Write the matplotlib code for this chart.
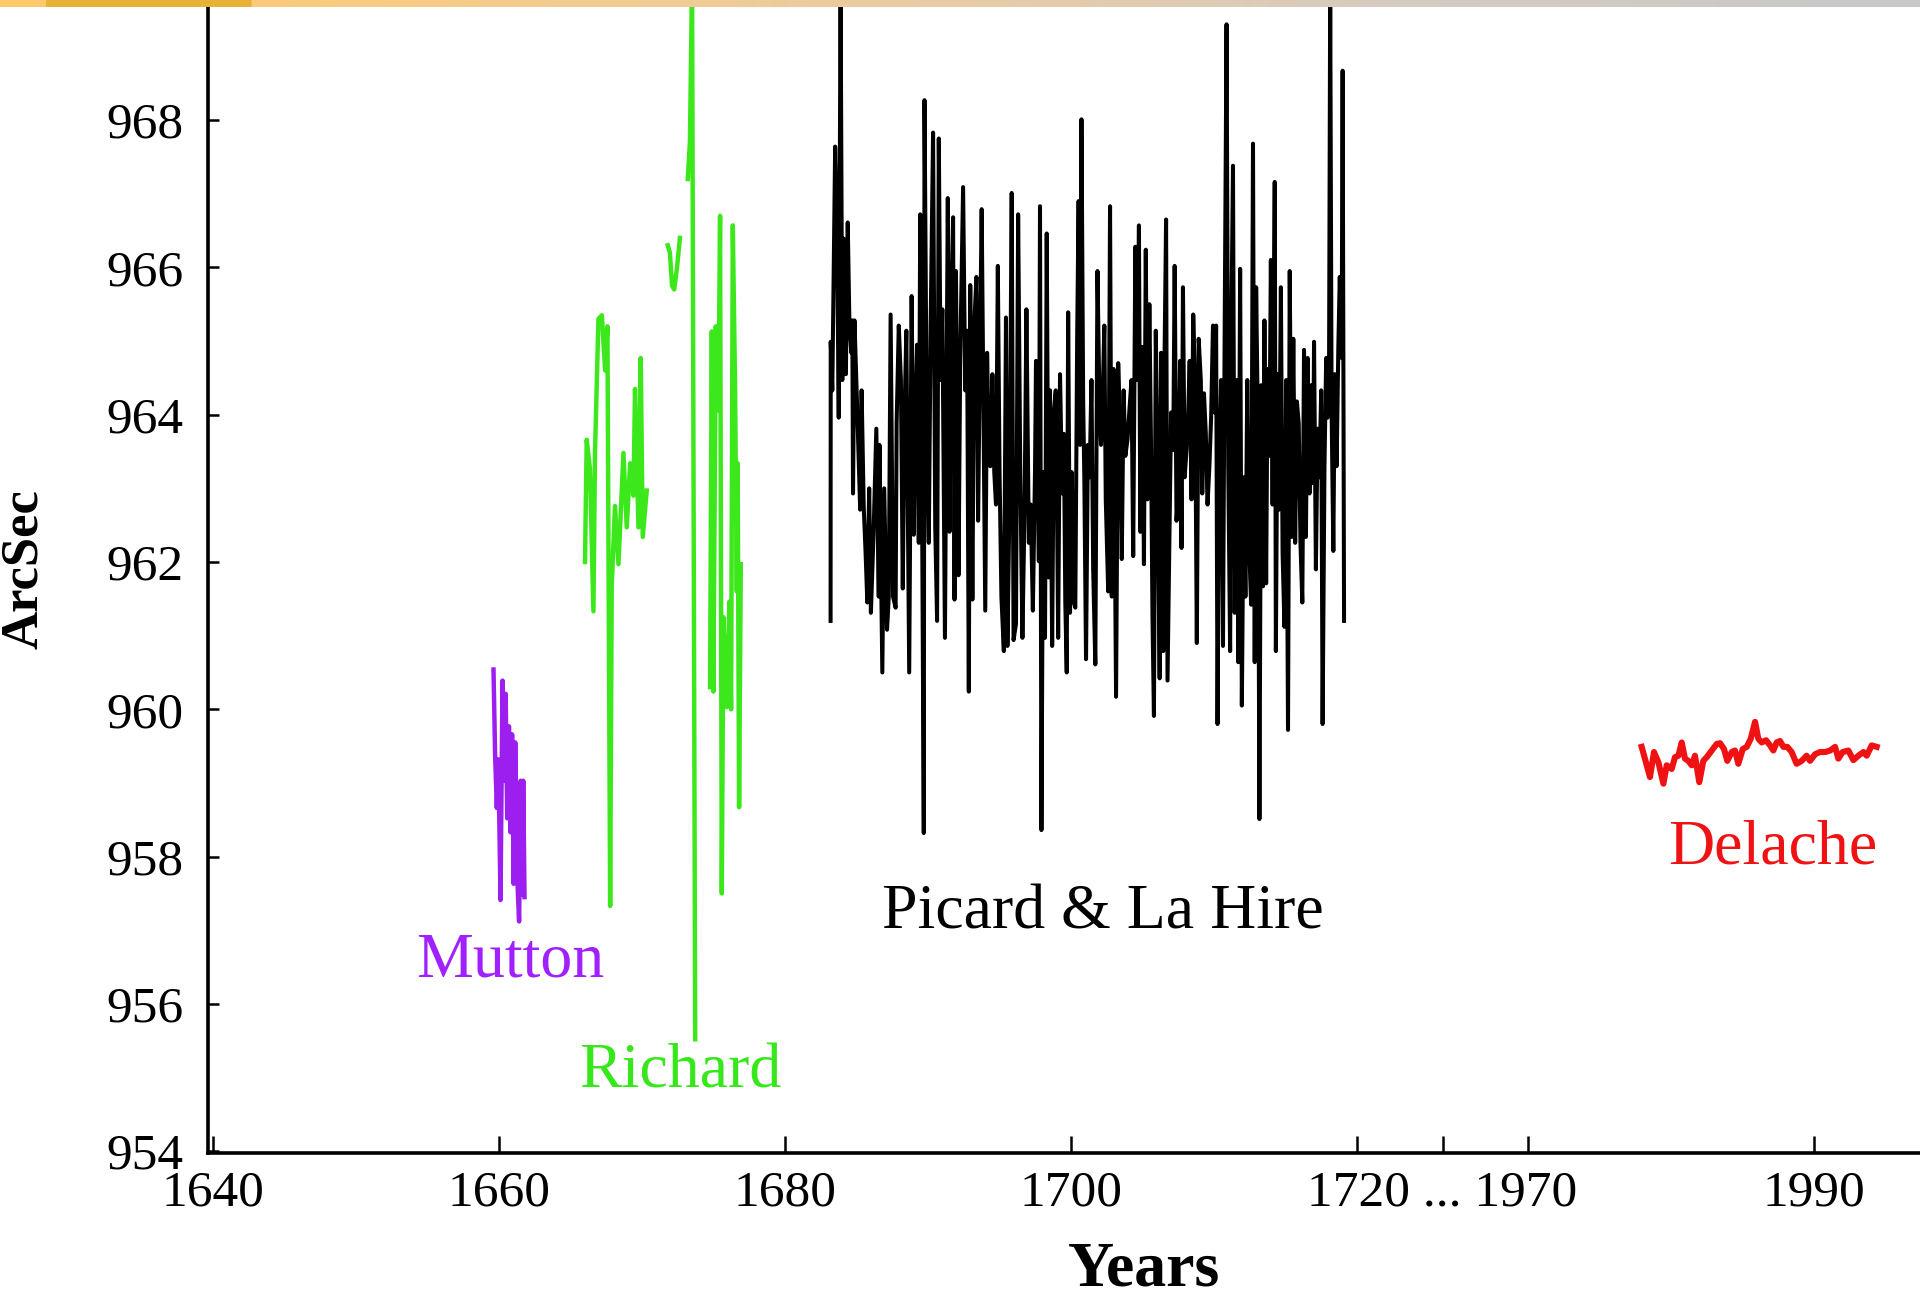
import numpy as np
import matplotlib
matplotlib.use('Agg')
import matplotlib.pyplot as plt
from matplotlib.colors import LinearSegmentedColormap
from matplotlib.patches import FancyBboxPatch

# x axis is broken: 1720..1970 is squeezed into a few years of width
GAP_START, GAP_END = 1720, 1970
GAP_WIDTH = 12


def squeeze(years):
    years = np.asarray(years, dtype=float)
    return np.where(years >= GAP_END, years - (GAP_END - GAP_START - GAP_WIDTH), years)


# ---- data (years, solar semi-diameter in arcsec) ----
mutton_years = [1659.61, 1659.72, 1659.84, 1659.95, 1660.10, 1660.24, 1660.35, 1660.46,
                1660.57, 1660.69, 1660.80, 1660.91, 1661.02, 1661.13, 1661.29, 1661.40,
                1661.51, 1661.63, 1661.69, 1661.78]
mutton_vals = [960.54, 959.40, 958.66, 959.32, 957.41, 960.39, 959.03, 960.21,
               958.52, 959.77, 958.33, 959.66, 957.63, 959.55, 957.63, 957.12,
               959.03, 957.48, 959.03, 957.45]

# Richard: four separate runs, nan breaks the line between them
richard_years = [1666.01, 1666.13, 1666.36, 1666.60, 1666.71, 1666.95, 1667.19, 1667.42,
                 1667.58, 1667.77, 1667.88, 1668.11, 1668.35, 1668.70, 1668.93, 1669.17,
                 1669.40, 1669.51, 1669.75, 1669.91, 1670.05, 1670.33,
                 np.nan,
                 1671.80, 1671.95, 1672.10, 1672.25, 1672.45, 1672.65,
                 np.nan,
                 1673.20, 1673.35, 1673.50, 1673.72,
                 np.nan,
                 1674.76, 1674.88, 1674.99, 1675.16, 1675.34, 1675.46, 1675.58, 1675.69,
                 1675.93, 1676.11, 1676.23, 1676.35, 1676.51, 1676.63, 1676.69, 1676.79,
                 1676.91]
richard_vals = [962.00, 963.66, 963.26, 961.33, 963.48, 965.30, 965.35, 964.60,
                965.20, 957.33, 961.68, 962.76, 961.97, 963.48, 962.47, 963.34,
                962.90, 964.35, 962.47, 964.77, 962.34, 962.97,
                np.nan,
                966.30, 966.20, 965.75, 965.70, 966.00, 966.40,
                np.nan,
                967.20, 967.70, 969.90, 955.52,
                np.nan,
                960.30, 965.13, 960.24, 965.20, 964.06, 966.70, 957.50, 961.25,
                960.03, 961.46, 960.00, 966.57, 964.35, 961.60, 963.34, 958.67,
                961.97]

picard_years = [
    1683.19, 1683.20, 1683.31, 1683.51, 1683.64, 1683.76, 1683.89, 1684.01, 1684.11, 1684.26,
    1684.39, 1684.51, 1684.64, 1684.71, 1684.76, 1684.86, 1685.06, 1685.26, 1685.36, 1685.51,
    1685.64, 1685.76, 1685.89, 1686.01, 1686.19, 1686.39, 1686.56, 1686.61, 1686.81, 1686.94,
    1687.14, 1687.26, 1687.39, 1687.56, 1687.74, 1687.81, 1687.96, 1688.11, 1688.24, 1688.36,
    1688.49, 1688.69, 1688.86, 1689.01, 1689.11, 1689.24, 1689.36, 1689.46, 1689.56, 1689.71,
    1689.76, 1689.94, 1690.06, 1690.19, 1690.36, 1690.51, 1690.64, 1690.76, 1690.89, 1691.01,
    1691.19, 1691.39, 1691.51, 1691.61, 1691.76, 1691.86, 1691.96, 1692.14, 1692.26, 1692.46,
    1692.61, 1692.74, 1692.86, 1692.96, 1693.11, 1693.24, 1693.39, 1693.51, 1693.61, 1693.76,
    1693.91, 1694.01, 1694.14, 1694.24, 1694.36, 1694.51, 1694.64, 1694.76, 1694.89, 1695.01,
    1695.14, 1695.31, 1695.46, 1695.56, 1695.71, 1695.86, 1695.99, 1696.16, 1696.31, 1696.46,
    1696.61, 1696.76, 1696.89, 1697.06, 1697.19, 1697.34, 1697.49, 1697.56, 1697.69, 1697.76,
    1697.84, 1697.94, 1698.06, 1698.19, 1698.31, 1698.44, 1698.54, 1698.69, 1698.81, 1698.94,
    1699.01, 1699.11, 1699.24, 1699.39, 1699.51, 1699.61, 1699.71, 1699.81, 1699.94, 1700.06,
    1700.21, 1700.31, 1700.44, 1700.54, 1700.64, 1700.74, 1700.86, 1700.94, 1701.06, 1701.19,
    1701.31, 1701.44, 1701.56, 1701.71, 1701.86, 1702.01, 1702.11, 1702.21, 1702.34, 1702.44,
    1702.61, 1702.74, 1702.86, 1702.99, 1703.16, 1703.31, 1703.44, 1703.56, 1703.69, 1703.81,
    1703.96, 1704.11, 1704.24, 1704.36, 1704.51, 1704.64, 1704.76, 1704.86, 1704.99, 1705.11,
    1705.24, 1705.36, 1705.49, 1705.61, 1705.71, 1705.81, 1705.94, 1706.06, 1706.21, 1706.31,
    1706.46, 1706.56, 1706.66, 1706.76, 1706.89, 1707.01, 1707.16, 1707.26, 1707.39, 1707.51,
    1707.64, 1707.74, 1707.84, 1707.96, 1708.09, 1708.21, 1708.31, 1708.44, 1708.56, 1708.69,
    1708.81, 1708.94, 1709.09, 1709.19, 1709.31, 1709.44, 1709.56, 1709.69, 1709.81, 1709.94,
    1710.06, 1710.16, 1710.26, 1710.36, 1710.51, 1710.64, 1710.76, 1710.89, 1711.01, 1711.14,
    1711.24, 1711.34, 1711.46, 1711.61, 1711.71, 1711.84, 1711.96, 1712.09, 1712.21, 1712.34,
    1712.46, 1712.61, 1712.74, 1712.86, 1712.96, 1713.09, 1713.19, 1713.31, 1713.44, 1713.54,
    1713.66, 1713.76, 1713.89, 1713.99, 1714.11, 1714.26, 1714.34, 1714.46, 1714.56, 1714.69,
    1714.81, 1714.94, 1715.06, 1715.19, 1715.31, 1715.44, 1715.56, 1715.69, 1715.81, 1715.94,
    1716.06, 1716.19, 1716.31, 1716.44, 1716.56, 1716.69, 1716.81, 1716.94, 1717.01, 1717.14,
    1717.26, 1717.39, 1717.51, 1717.61, 1717.74, 1717.86, 1717.96, 1718.06, 1718.14, 1718.24,
    1718.36, 1718.46, 1718.59, 1718.71, 1718.81, 1718.94, 1719.01, 1719.11]
picard_vals = [
    961.20, 964.99, 964.33, 967.64, 966.54, 963.96, 969.80, 964.47, 966.39, 964.55,
    966.61, 965.21, 964.84, 965.28, 962.93, 965.28, 964.03, 962.71, 964.33, 962.74,
    962.12, 961.45, 963.00, 961.31, 962.34, 963.81, 961.53, 963.59, 960.50, 963.00,
    961.08, 961.53, 965.36, 961.53, 961.38, 963.88, 965.21, 964.47, 961.64, 963.96,
    965.14, 960.50, 965.61, 962.37, 963.88, 964.95, 962.26, 966.72, 963.88, 958.32,
    968.27, 963.30, 962.26, 965.21, 967.83, 962.49, 961.20, 967.75, 964.47, 965.43,
    960.97, 966.94, 962.41, 965.21, 966.68, 961.49, 965.95, 961.82, 964.77, 967.09,
    964.33, 965.14, 960.24, 965.76, 961.49, 965.21, 965.87, 962.56, 964.36, 966.79,
    963.55, 961.34, 964.84, 963.74, 963.30, 964.55, 963.22, 962.78, 966.02, 963.22,
    961.53, 960.79, 965.32, 960.86, 962.85, 967.01, 960.94, 961.16, 966.72, 963.22,
    960.97, 962.71, 965.43, 962.26, 962.78, 961.34, 963.22, 964.73, 963.07, 962.01,
    966.83, 958.36, 963.22, 960.97, 966.46, 961.79, 964.33, 960.86, 964.03, 964.33,
    963.22, 960.97, 964.55, 962.93, 963.74, 961.45, 960.50, 965.39, 961.31, 963.22,
    961.45, 961.38, 965.06, 966.90, 963.59, 968.01, 964.18, 963.15, 960.68, 963.59,
    963.15, 964.47, 961.90, 960.61, 965.95, 964.03, 963.59, 964.11, 965.21, 962.85,
    961.60, 966.83, 961.53, 964.62, 960.17, 964.70, 963.81, 962.04, 964.33, 963.44,
    963.66, 964.11, 964.47, 962.08, 966.28, 964.47, 966.57, 962.41, 964.92, 961.97,
    966.24, 962.85, 965.50, 963.52, 961.23, 959.91, 965.14, 963.37, 960.42, 964.84,
    960.79, 964.92, 966.65, 960.39, 962.26, 964.03, 963.52, 966.02, 962.56, 962.93,
    964.73, 962.19, 965.73, 963.15, 963.52, 964.03, 964.73, 962.85, 965.36, 964.33,
    960.90, 965.03, 964.47, 962.93, 964.29, 963.74, 962.78, 963.30, 963.96, 965.21,
    964.03, 965.21, 959.80, 963.15, 964.47, 960.86, 965.21, 969.30, 963.30, 960.79,
    965.43, 967.38, 961.31, 964.47, 960.64, 965.98, 960.05, 963.15, 961.53, 964.47,
    962.26, 961.42, 967.68, 960.64, 965.73, 963.74, 958.51, 964.40, 961.67, 965.28,
    961.71, 964.62, 963.44, 966.10, 962.78, 967.16, 960.79, 964.55, 962.71, 965.73,
    962.12, 961.12, 964.47, 959.72, 965.95, 962.34, 965.03, 962.26, 964.18, 963.88,
    962.26, 961.45, 964.88, 962.34, 964.77, 962.93, 964.40, 963.07, 964.99, 961.90,
    963.81, 963.15, 964.33, 959.80, 963.30, 964.77, 963.96, 964.62, 969.80, 964.03,
    962.15, 964.55, 963.30, 964.92, 965.87, 964.77, 968.67, 961.20]

delache_years = [1977.93, 1978.51, 1978.79, 1979.10, 1979.45, 1979.68, 1980.03, 1980.26,
                 1980.50, 1980.73, 1980.96, 1981.19, 1981.43, 1981.66, 1981.96, 1982.24,
                 1982.48, 1982.83, 1983.18, 1983.41, 1983.69, 1983.92, 1984.23, 1984.46,
                 1984.69, 1985.00, 1985.28, 1985.56, 1985.86, 1986.09, 1986.33, 1986.63,
                 1986.91, 1987.14, 1987.37, 1987.61, 1987.84, 1988.12, 1988.42, 1988.77,
                 1989.12, 1989.47, 1989.71, 1990.06, 1990.41, 1990.76, 1991.11, 1991.46,
                 1991.69, 1991.99, 1992.39, 1992.74, 1993.09, 1993.44, 1993.67, 1994.02,
                 1994.37]
delache_vals = [959.49, 959.08, 959.42, 959.28, 958.99, 959.24, 959.19, 959.35,
                959.37, 959.55, 959.33, 959.30, 959.24, 959.37, 959.01, 959.30,
                959.35, 959.44, 959.53, 959.54, 959.46, 959.30, 959.42, 959.44,
                959.26, 959.46, 959.49, 959.60, 959.83, 959.60, 959.55, 959.58,
                959.51, 959.44, 959.55, 959.57, 959.49, 959.49, 959.42, 959.26,
                959.30, 959.37, 959.30, 959.39, 959.42, 959.42, 959.44, 959.49,
                959.33, 959.42, 959.44, 959.31, 959.37, 959.42, 959.37, 959.51,
                959.49]

y_ticks = [954, 956, 958, 960, 962, 964, 966, 968]
x_tick_years = [1640, 1660, 1680, 1700, 1720, 1970, 1990]

PURPLE = '#9d1ff0'
GREEN = '#3ce81c'
RED = '#f01212'

plt.rcParams['font.family'] = ['Liberation Serif', 'DejaVu Serif']

fig = plt.figure(figsize=(19.2, 12.96), dpi=100)
ax = fig.add_axes([0.1085, 0.110, 0.8915, 0.890])

ax.plot(squeeze(mutton_years), mutton_vals, color=PURPLE, lw=3.2)
ax.plot(squeeze(richard_years), richard_vals, color=GREEN, lw=3.2)
ax.plot(squeeze(picard_years), picard_vals, color='black', lw=2.9)
ax.plot(squeeze(delache_years), delache_vals, color=RED, lw=4.4)

ax.set_xlim(1639.66, 1759.4)
ax.set_ylim(953.97, 969.63)

# ticks: normal years, the break mark, then the modern years
break_pos = GAP_START + GAP_WIDTH / 2
xt = list(squeeze(x_tick_years[:5])) + [break_pos] + list(squeeze(x_tick_years[5:]))
xl = ['1640', '1660', '1680', '1700', '', '1720 ... 1970', '', '1990']
ax.set_xticks(xt)
ax.set_xticklabels(xl)
ax.set_yticks(y_ticks)
ax.set_yticklabels([str(v) for v in y_ticks])

ax.tick_params(axis='x', direction='in', length=12, width=1.8, pad=12, labelsize=37)
ax.tick_params(axis='y', direction='in', length=8, width=1.8, pad=18, labelsize=37)

for s in ['top', 'right']:
    ax.spines[s].set_visible(False)
for s in ['left', 'bottom']:
    ax.spines[s].set_linewidth(2.6)

# series names
ax.text(1654.2, 956.37, 'Mutton', color='#a020ff', fontsize=46)
ax.text(1665.6, 954.86, 'Richard', color='#36e81a', fontsize=46)
ax.text(1686.8, 957.02, 'Picard & La Hire', color='black', fontsize=46)
ax.text(1741.8, 957.90, 'Delache', color=RED, fontsize=46)

fig.text(0.0125, 0.561, 'ArcSec', rotation=90, ha='center', va='center',
         fontsize=38, fontweight='bold')
fig.text(0.596, 0.020, 'Years', ha='center', va='center',
         fontsize=46, fontweight='bold')

# slide header strip across the top of the screenshot
strip = fig.add_axes([0, 1 - 7 / 1296, 1, 7 / 1296])
cmap = LinearSegmentedColormap.from_list('strip', ['#ffc96a', '#f5cc8a', '#e8cba6', '#d4ccc2', '#c8c8c8'])
strip.imshow(np.linspace(0, 1, 256)[None, :], aspect='auto', cmap=cmap, extent=[0, 1, 0, 1])
strip.add_patch(FancyBboxPatch((0.024, -0.5), 0.107, 1.6, boxstyle='round,pad=0,rounding_size=0.01',
                               facecolor='#e8b236', edgecolor='none', mutation_aspect=0.2))
strip.set_xlim(0, 1)
strip.set_ylim(0, 1)
strip.axis('off')

fig.savefig('out.png', dpi=100)
